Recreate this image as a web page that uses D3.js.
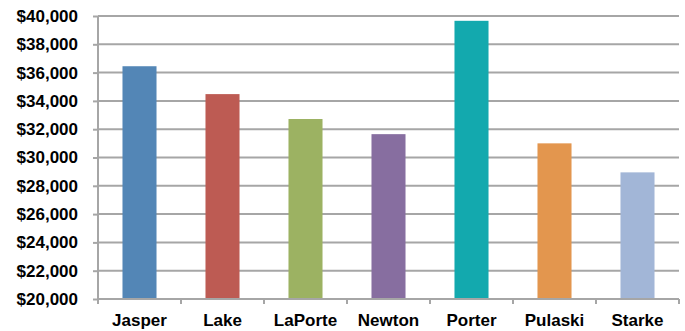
<!DOCTYPE html>
<html>
<head>
<meta charset="utf-8">
<script src="https://cdn.jsdelivr.net/npm/d3@7"></script>
<style>
  body { margin: 0; background: #fff; }
  svg text { font-family: "Liberation Sans", Arial, sans-serif; font-weight: bold; font-size: 17px; fill: #000; }
  .grid line { stroke: #a6a6a6; stroke-width: 2px; }
  .axis path, .axis line { stroke: #a6a6a6; stroke-width: 2px; }
</style>
</head>
<body>
<div id="chart"></div>
<script>
(function(){

let counties = ["Jasper", "Lake", "LaPorte", "Newton", "Porter", "Pulaski", "Starke"];
let income = [36450, 34480, 32720, 31650, 39660, 31000, 28950];
let colors = ["#5386b6", "#bd5b53", "#9cb262", "#876ea0", "#13a9ae", "#e3964e", "#a2b6d7"];
let yTicks = [20000, 22000, 24000, 26000, 28000, 30000, 32000, 34000, 36000, 38000, 40000];

let margin = {top: 16, right: 6, bottom: 32, left: 98},
  width = 685 - margin.left - margin.right,
  height = 331 - margin.top - margin.bottom;

let svg = d3.select("#chart").append("svg")
    .attr("width", 685)
    .attr("height", 331)
  .append("g")
    .attr("transform", "translate(" + margin.left + "," + margin.top + ")");

let x = d3.scaleBand().domain(counties).range([0, width]).paddingInner(0.59).paddingOuter(0.295);
let xTicks = d3.scaleBand().domain(counties).range([0, width]);
let y = d3.scaleLinear().domain([20000, 40000]).range([height, 0]);

let fmt = d3.format("$,");

// gridlines
svg.append("g")
    .attr("class", "grid")
  .selectAll("line")
  .data(yTicks.slice(1))
  .enter().append("line")
    .attr("x1", 0)
    .attr("x2", width)
    .attr("y1", d => y(d))
    .attr("y2", d => y(d));

// bars
svg.selectAll(".bar")
    .data(income)
  .enter().append("rect")
    .attr("class", "bar")
    .attr("x", (d, i) => x(counties[i]))
    .attr("width", x.bandwidth())
    .attr("y", d => y(d))
    .attr("height", d => height - y(d))
    .attr("fill", (d, i) => colors[i]);

// y axis
let yAxis = svg.append("g")
    .attr("class", "axis")
    .call(d3.axisLeft(y).tickValues(yTicks).tickFormat(fmt).tickSize(5).tickSizeOuter(0).tickPadding(15));
yAxis.select(".domain").attr("d", "M0," + (height + 5) + "V0");

// x axis
let xAxis = svg.append("g")
    .attr("class", "axis")
    .attr("transform", "translate(0," + height + ")")
    .call(d3.axisBottom(xTicks).tickSize(0).tickPadding(15));
xAxis.select(".domain").attr("d", "M0,0H" + width);
xAxis.selectAll(".tickmark")
    .data(d3.range(counties.length + 1))
  .enter().append("line")
    .attr("class", "tickmark")
    .attr("x1", d => d * xTicks.step())
    .attr("x2", d => d * xTicks.step())
    .attr("y1", 0)
    .attr("y2", 5);

svg.selectAll("text").attr("fill", "#000");

})();
</script>
</body>
</html>
